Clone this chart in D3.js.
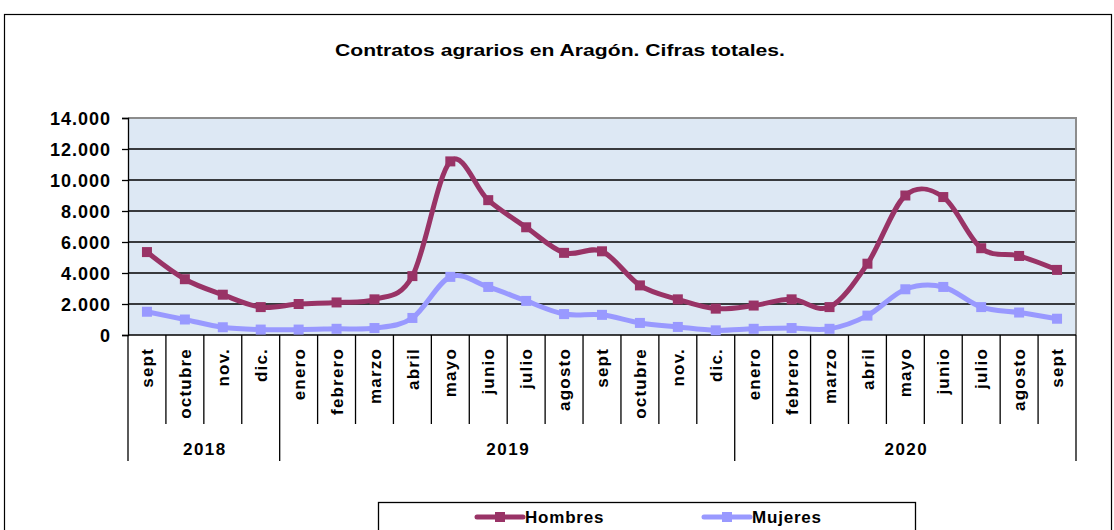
<!DOCTYPE html>
<html><head><meta charset="utf-8">
<script src="https://cdn.jsdelivr.net/npm/d3@7"></script>
<style>body{margin:0;background:#fff}svg{display:block}text{font-family:"Liberation Sans",Arial,sans-serif;font-weight:bold;fill:#000}</style>
</head><body><svg id="c" width="1114" height="530"></svg>
<script>
const months = ["sept","octubre","nov.","dic.","enero","febrero","marzo","abril","mayo","junio","julio","agosto","sept","octubre","nov.","dic.","enero","febrero","marzo","abril","mayo","junio","julio","agosto","sept"];
const hombres = [5350,3600,2600,1800,2000,2100,2300,3800,11200,8700,6950,5300,5400,3200,2300,1700,1900,2300,1800,4600,9000,8900,5600,5100,4200];
const mujeres = [1500,1000,500,350,350,400,450,1100,3750,3100,2200,1350,1300,780,520,300,400,450,400,1250,2950,3100,1800,1450,1050];
const yTicks = [0,2000,4000,6000,8000,10000,12000,14000];
const yearLabels = ["2018","2019","2020"];
const yearSpans = [4,12,9];
const seriesNames = ["Hombres","Mujeres"];
const seriesColors = ["#993366","#9999ff"];

const svg = d3.select("#c");
const L=128,R=1076,T=118,B=335;
const x = d3.scaleBand().domain(d3.range(months.length)).range([L,R]).padding(0);
const y = d3.scaleLinear().domain([0,14000]).range([B,T]);
const fmt = v => d3.format(",")(v).replace(/,/g,".");

// outer frame
svg.append("rect").attr("x",4.5).attr("y",14.5).attr("width",1107).attr("height",530).attr("fill","none").attr("stroke","#000").attr("stroke-width",1.2);
svg.append("text").attr("x",560).attr("y",56).attr("text-anchor","middle").style("font-size","17px")
  .attr("textLength",450).attr("lengthAdjust","spacingAndGlyphs")
  .text("Contratos agrarios en  Aragón. Cifras totales.");

// plot area
svg.append("rect").attr("x",L).attr("y",T).attr("width",R-L).attr("height",B-T).attr("fill","#dde8f4");
svg.append("g").selectAll("line").data(yTicks.filter(d=>d>0&&d<14000)).join("line")
  .attr("x1",L).attr("x2",R).attr("y1",d=>y(d)).attr("y2",d=>y(d)).attr("stroke","#000").attr("stroke-width",1.3);
svg.append("path").attr("d",`M${L},${T}H${R}V${B}`).attr("fill","none").attr("stroke","#8c8c8c").attr("stroke-width",2);

// y axis
const ya = svg.append("g").attr("transform",`translate(${L},0)`).call(d3.axisLeft(y).tickValues(yTicks).tickFormat(fmt).tickSize(6).tickPadding(11));
ya.select(".domain").attr("stroke","#000").attr("stroke-width",1.3);
ya.selectAll(".tick line").attr("stroke","#000").attr("stroke-width",1.3);
ya.selectAll("text").style("font-size","18px").style("letter-spacing","1px").attr("font-family",null).attr("dy","0.36em");

// x axis baseline
svg.append("line").attr("x1",L).attr("x2",R).attr("y1",B).attr("y2",B).attr("stroke","#000").attr("stroke-width",1.5);
// month separators
svg.append("g").selectAll("line").data(d3.range(months.length+1)).join("line")
  .attr("x1",i=>i<months.length?x(i):R).attr("x2",i=>i<months.length?x(i):R)
  .attr("y1",B).attr("y2",424).attr("stroke","#000").attr("stroke-width",1.3);
// month labels
svg.append("g").selectAll("text").data(months).join("text")
  .attr("transform",(d,i)=>`translate(${x(i)+x.bandwidth()/2},348) rotate(-90)`)
  .attr("text-anchor","end").attr("dy","0.36em").style("font-size","17px").style("letter-spacing","1.2px").text(d=>d);
// year separators and labels
const starts = yearSpans.map((s,i)=>d3.sum(yearSpans.slice(0,i)));
const bounds = starts.concat([months.length]);
svg.append("g").selectAll("line").data(bounds).join("line")
  .attr("x1",i=>i<months.length?x(i):R).attr("x2",i=>i<months.length?x(i):R)
  .attr("y1",424).attr("y2",461).attr("stroke","#000").attr("stroke-width",1.3);
svg.append("g").selectAll("text").data(yearLabels).join("text")
  .attr("x",(d,i)=>{const a=x(starts[i]);const b=starts[i]+yearSpans[i]<months.length?x(starts[i]+yearSpans[i]):R;return (a+b)/2+1;})
  .attr("y",455).attr("text-anchor","middle").style("font-size","17px").style("letter-spacing","1.5px").text(d=>d);

// series
const cx = i => x(i)+x.bandwidth()/2;
const line = d3.line().x((d,i)=>cx(i)).y(d=>y(d)).curve(d3.curveCatmullRom.alpha(0));
[mujeres,hombres].forEach((data,k)=>{
  const col = seriesColors[k===0?1:0];
  svg.append("path").datum(data).attr("d",line).attr("fill","none").attr("stroke",col).attr("stroke-width",5).attr("stroke-linejoin","round");
  svg.append("g").selectAll("rect").data(data).join("rect")
    .attr("x",(d,i)=>cx(i)-5).attr("y",d=>y(d)-5).attr("width",10).attr("height",10).attr("fill",col);
});

// legend
svg.append("rect").attr("x",378.5).attr("y",502.5).attr("width",537).attr("height",40).attr("fill","#fff").attr("stroke","#000").attr("stroke-width",1.3);
const lx = [477,704];
seriesNames.forEach((n,i)=>{
  const g = svg.append("g");
  g.append("line").attr("x1",lx[i]).attr("x2",lx[i]+46).attr("y1",517).attr("y2",517).attr("stroke",seriesColors[i]).attr("stroke-width",5).attr("stroke-linecap","round");
  g.append("rect").attr("x",lx[i]+18).attr("y",512).attr("width",10).attr("height",10).attr("fill",seriesColors[i]);
  g.append("text").attr("x",lx[i]+48).attr("y",523).style("font-size","17px").style("letter-spacing","0.8px").text(n);
});
</script></body></html>
